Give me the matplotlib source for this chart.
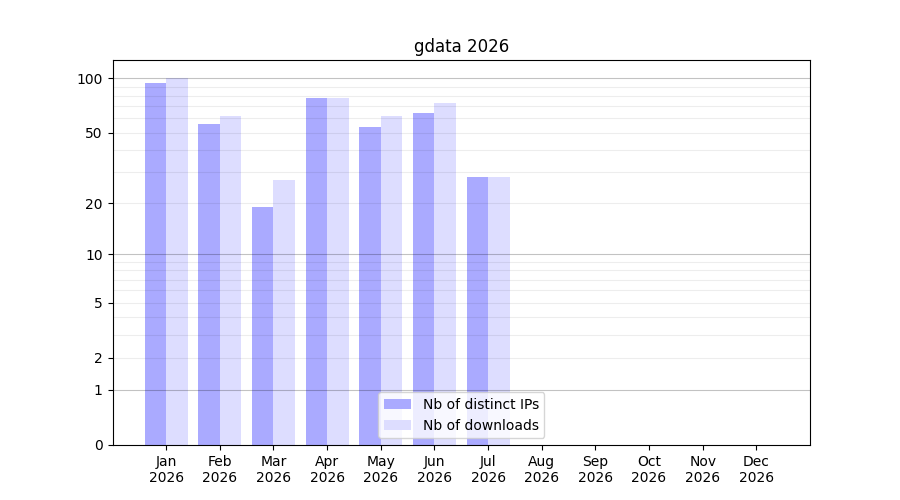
import numpy as np
import matplotlib
matplotlib.use("Agg")
import matplotlib.pyplot as plt
from matplotlib.ticker import FixedLocator, FixedFormatter

months = ["Jan", "Feb", "Mar", "Apr", "May", "Jun", "Jul", "Aug", "Sep", "Oct", "Nov", "Dec"]
year = "2026"
distinct_ips = [94, 56, 19, 78, 54, 64, 28, 0, 0, 0, 0, 0]
downloads = [100, 62, 27, 78, 62, 73, 28, 0, 0, 0, 0, 0]
ytick_vals = [0, 1, 2, 5, 10, 20, 50, 100]
major_grid = [1, 10, 100]
minor_grid = [2, 3, 4, 5, 6, 7, 8, 9, 20, 30, 40, 50, 60, 70, 80, 90]

fig, ax = plt.subplots(figsize=(9, 5), dpi=100)
x = np.arange(1, len(months) + 1)
w = 0.4
ax.set_yscale("function", functions=(lambda v: np.log10(1 + np.clip(v, -0.999999, None)),
                                     lambda v: 10 ** v - 1))
ax.bar(x - w / 2, distinct_ips, width=w, color="#aaaaff", label="Nb of distinct IPs")
ax.bar(x + w / 2, downloads, width=w, color="#ddddff", label="Nb of downloads")

ax.yaxis.set_major_locator(FixedLocator(ytick_vals))
ax.yaxis.set_major_formatter(FixedFormatter([str(v) for v in ytick_vals]))
ax.yaxis.set_minor_locator(FixedLocator([]))
for v in minor_grid:
    ax.axhline(v, color="black", alpha=0.07, lw=0.8, zorder=1.5)
for v in major_grid:
    ax.axhline(v, color="black", alpha=0.24, lw=0.8, zorder=1.5)

ax.set_xticks(x)
ax.set_xticklabels([f"{m}\n{year}" for m in months])
ax.set_xlim(0, len(months) + 1)
ax.set_title("gdata 2026")
ax.legend(loc="lower center")
fig.savefig("out.png")
